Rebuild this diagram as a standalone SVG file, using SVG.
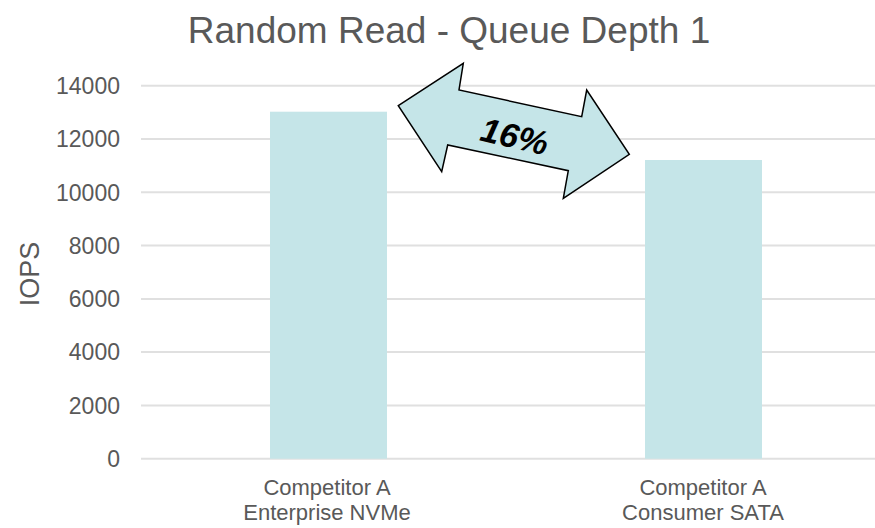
<svg xmlns="http://www.w3.org/2000/svg" width="875" height="528" viewBox="0 0 875 528">
<style>
.grid{stroke:#e0e0e0;stroke-width:2}
.bar{fill:#c5e5e8}
.tick{font-family:"Liberation Sans",Arial,sans-serif;font-size:23px;fill:#595959;text-anchor:end}
.cat{font-family:"Liberation Sans",Arial,sans-serif;font-size:22px;fill:#595959;text-anchor:middle}
</style>
<rect width="875" height="528" fill="#ffffff"/>
<text x="449" y="43" font-family="Liberation Sans,Arial,sans-serif" font-size="37" fill="#595959" text-anchor="middle">Random Read - Queue Depth 1</text>
<g id="gridlines">
<line class="grid" x1="141" y1="85.7" x2="875" y2="85.7"/>
<line class="grid" x1="141" y1="139" x2="875" y2="139"/>
<line class="grid" x1="141" y1="192.3" x2="875" y2="192.3"/>
<line class="grid" x1="141" y1="245.6" x2="875" y2="245.6"/>
<line class="grid" x1="141" y1="298.9" x2="875" y2="298.9"/>
<line class="grid" x1="141" y1="352.1" x2="875" y2="352.1"/>
<line class="grid" x1="141" y1="405.4" x2="875" y2="405.4"/>
<line class="grid" x1="141" y1="458.7" x2="875" y2="458.7"/>
</g>
<g id="yaxis">
<text class="tick" x="120" y="94">14000</text>
<text class="tick" x="120" y="147.3">12000</text>
<text class="tick" x="120" y="200.6">10000</text>
<text class="tick" x="120" y="253.9">8000</text>
<text class="tick" x="120" y="307.2">6000</text>
<text class="tick" x="120" y="360.4">4000</text>
<text class="tick" x="120" y="413.7">2000</text>
<text class="tick" x="120" y="467">0</text>
<text x="0" y="0" transform="translate(39,274) rotate(-90)" font-family="Liberation Sans,Arial,sans-serif" font-size="27" fill="#595959" text-anchor="middle">IOPS</text>
</g>
<g id="bar-enterprise">
<rect class="bar" x="270" y="111.7" width="117" height="347"/>
<text class="cat" x="327" y="495">Competitor A</text>
<text class="cat" x="327" y="520">Enterprise NVMe</text>
</g>
<g id="bar-consumer">
<rect class="bar" x="645" y="160" width="117" height="298.7"/>
<text class="cat" x="703" y="495">Competitor A</text>
<text class="cat" x="703" y="520">Consumer SATA</text>
</g>
<g id="arrow">
<polygon points="398.3,105.7 463.3,63.3 459,90 581.7,116.7 586.7,90 629.3,154.3 563.3,198.3 568.3,170.7 447.7,145 441.7,171.7" fill="#c5e5e8" stroke="#000000" stroke-width="1.5" stroke-linejoin="miter"/>
<text x="0" y="0" transform="translate(512,148) rotate(13)" font-family="Liberation Sans,Arial,sans-serif" font-size="34" font-weight="bold" font-style="italic" fill="#000000" text-anchor="middle">16%</text>
</g>
</svg>
